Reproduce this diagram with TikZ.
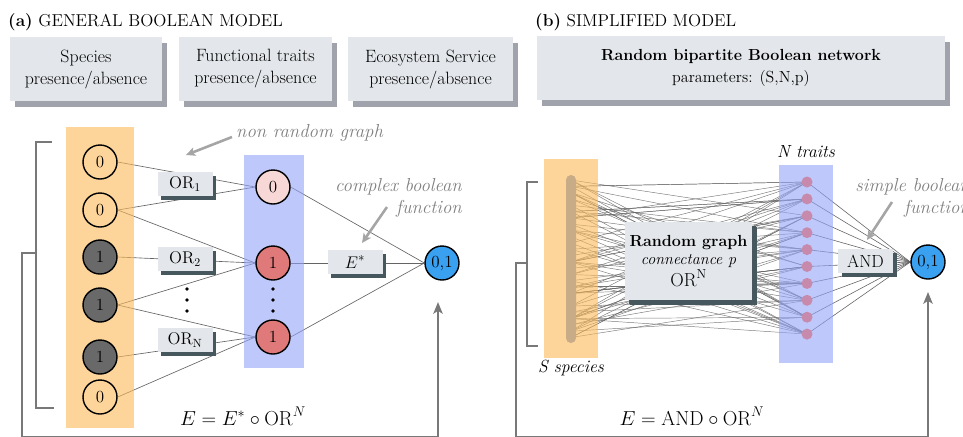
\documentclass[tikz,border=0pt]{standalone}
\usepackage{amsmath}
\usetikzlibrary{arrows.meta,shadows,calc}
\definecolor{orangeband}{RGB}{251,185,88}
\definecolor{blueband}{RGB}{147,163,247}
\definecolor{boxfill}{RGB}{227,230,234}
\definecolor{topshadow}{RGB}{160,163,172}
\definecolor{darkshadow}{RGB}{70,88,94}
\definecolor{onefill}{RGB}{105,105,105}
\definecolor{palepink}{RGB}{248,215,215}
\definecolor{salmon}{RGB}{224,122,122}
\definecolor{outblue}{RGB}{58,160,240}
\definecolor{mauve}{RGB}{200,138,172}
\definecolor{tanbar}{RGB}{200,172,135}
\definecolor{edgegray}{RGB}{100,100,100}
\definecolor{bracketgray}{RGB}{120,120,120}
\definecolor{notegray}{RGB}{128,128,128}
\definecolor{notearrow}{RGB}{165,165,165}
\pgfdeclarelayer{edges}
\pgfdeclarelayer{bands}
\pgfsetlayers{edges,bands,main}

\begin{document}
\begin{tikzpicture}[x=0.03cm,y=-0.03cm,
  title/.style={anchor=base west, inner sep=0pt, font=\fontsize{14.7}{17}\selectfont},
  topbox/.style={fill=boxfill, align=center, inner sep=0pt,
    font=\fontsize{15.2}{18.8}\selectfont,
    general shadow={fill=topshadow, shadow xshift=4.3pt, shadow yshift=-5.1pt}},
  gate/.style={fill=boxfill, inner sep=0pt, font=\fontsize{14.5}{16}\selectfont,
    minimum width=1.65cm, minimum height=0.72cm,
    general shadow={fill=darkshadow, shadow xshift=3.4pt, shadow yshift=-3.4pt}},
  state/.style={circle, draw=black, line width=1.2pt, minimum size=1.02cm,
    inner sep=0pt, font=\fontsize{14.5}{16}\selectfont},
  zero/.style={state},
  one/.style={state, fill=onefill},
  tdot/.style={circle, fill=mauve, minimum size=0.33cm, inner sep=0pt},
  edge/.style={draw=edgegray, line width=0.55pt},
  randedge/.style={draw=edgegray, line width=0.4pt, draw opacity=0.85},
  bracket/.style={draw=bracketgray, line width=1.8pt, line join=miter},
  uparrow/.style={bracket, -{Stealth[length=10pt, width=8pt, inset=2.5pt]}},
  note/.style={text=notegray, font=\fontsize{16}{19}\selectfont\itshape, inner sep=0pt},
  notearr/.style={draw=notearrow, line width=2.2pt, -{Stealth[length=8pt, width=7.5pt, inset=2pt]}},
  eqn/.style={anchor=base, inner sep=0pt, font=\fontsize{17}{20}\selectfont},
]
\useasboundingbox (0,0) rectangle (963,436);
\clip (0,0) rectangle (963,436);

% ---------- headings and top boxes ----------
\node[title] (ta) at (8,26) {\textbf{(a)} GENERAL BOOLEAN MODEL};
\node[title] (tb) at (535,26) {\textbf{(b)} SIMPLIFIED MODEL};

\node[topbox, minimum width=4.56cm, minimum height=1.92cm] (b1) at (86,69)
  {Species\\presence/absence};
\node[topbox, minimum width=4.59cm, minimum height=1.92cm] (b2) at (255.5,69)
  {Functional traits\\presence/absence};
\node[topbox, minimum width=4.95cm, minimum height=1.92cm] (b3) at (430.5,69)
  {Ecosystem Service\\presence/absence};
\node[topbox, minimum width=12.24cm, minimum height=1.92cm,
  font=\fontsize{13.7}{18.8}\selectfont] (bb) at (741,68)
  {\textbf{Random bipartite Boolean network}\\parameters: (S,N,p)};

% ---------- coloured bands (above the edges, below the nodes) ----------
\begin{pgfonlayer}{bands}
  \fill[orangeband, fill opacity=0.6] (66,127) rectangle (134,428);
  \fill[blueband, fill opacity=0.6] (244,155) rectangle (304,368);
  \fill[orangeband, fill opacity=0.6] (544,159) rectangle (598,358);
  \fill[blueband, fill opacity=0.6] (779,165) rectangle (833,363);
\end{pgfonlayer}

% ---------- (a) general Boolean model ----------
\node[zero] (s1) at (100,162) {0};
\node[zero] (s2) at (100,210) {0};
\node[one]  (s3) at (100,257) {1};
\node[one]  (s4) at (100,305) {1};
\node[one]  (s5) at (100,357) {1};
\node[zero] (s6) at (100,397) {0};

\node[gate] (or1) at (185,184) {OR\textsubscript{1}};
\node[gate] (or2) at (185,259) {OR\textsubscript{2}};
\node[gate] (orn) at (185,340) {OR\textsubscript{N}};
\foreach \yy in {289,300,311} \fill (187,\yy) circle (1.6pt);

\node[state, fill=palepink] (t1) at (273,187) {0};
\node[state, fill=salmon]   (t2) at (273,263) {1};
\node[state, fill=salmon]   (t3) at (273,337) {1};
\foreach \yy in {289,300,311} \fill (273,\yy) circle (1.6pt);

\node[gate, font=\fontsize{15.5}{17}\selectfont] (estar) at (355,262) {$E^{*}$};
\node[state, fill=outblue] (outa) at (442,263) {0,1};

\begin{pgfonlayer}{edges}
  \draw[edge] (s1.east) -- (t1.west);
  \draw[edge] (s2.east) -- (t1.west);
  \draw[edge] (s2.east) -- (t2.west);
  \draw[edge] (s3.east) -- (t2.west);
  \draw[edge] (s4.east) -- (t2.west);
  \draw[edge] (s4.east) -- (t3.west);
  \draw[edge] (s5.east) -- (t3.west);
  \draw[edge] (s6.east) -- (t3.west);
  \draw[edge] (t1.east) -- (outa.west);
  \draw[edge] (t2.east) -- (outa.west);
  \draw[edge] (t3.east) -- (outa.west);
\end{pgfonlayer}

% annotations
\node[note, anchor=west] (nrg) at (236,133) {non random graph};
\coordinate (nrgtip) at (186,155);
\draw[notearr] (232,137) -- (nrgtip);
\node[note, anchor=east, align=right] (cbf) at (462,198) {complex boolean\\function};
\coordinate (cbftip) at (362,243);
\draw[notearr] (387,207) -- (cbftip);

% bracket and feedback arrow
\draw[bracket] (52,142) -- (36,142) -- (36,408) -- (54,408);
\coordinate (tipa) at (438,302);
\draw[uparrow] (36,253) -- (22,253) -- (22,437) -- (438,437) -- (tipa);

\node[eqn] (eqa) at (243,425) {$E = E^{*}\circ\mathrm{OR}^{N}$};

% ---------- (b) simplified model ----------
\fill[tanbar, rounded corners=4.2pt] (566,175) rectangle (576,343);
\foreach \k in {0,...,25} \coordinate (sp\k) at (571,{180+\k*6.3});
\foreach \j in {0,...,9} \node[tdot] (d\j) at (807,{182+\j*16.9}) {};

\node[gate, minimum width=3.81cm, minimum height=2.34cm, align=center,
  font=\fontsize{13.7}{16}\selectfont,
  general shadow={fill=darkshadow, shadow xshift=4.3pt, shadow yshift=-4.3pt}] (rg) at (688.5,261)
  {\textbf{Random graph}\\[-1pt]\textit{connectance p}\\[1pt]{\fontsize{16}{18}\selectfont OR\textsuperscript{N}}};

\node[gate, font=\fontsize{15}{17}\selectfont] (andg) at (865.5,261) {AND};
\node[state, fill=outblue] (outb) at (928,262) {0,1};

\begin{pgfonlayer}{edges}
  \pgfmathsetseed{271}
  \foreach \j in {0,...,9}{
    \foreach \r in {1,...,8}{
      \pgfmathrandominteger{\s}{0}{25}
      \draw[randedge] (sp\s) -- (d\j.center);
    }
    \draw[edge, line width=0.5pt] (d\j.center) -- (outb.west);
  }
\end{pgfonlayer}

\node[font=\fontsize{15}{18}\selectfont\itshape, inner sep=0pt] (ntr) at (806,152) {N traits};
\node[font=\fontsize{15}{18}\selectfont\itshape, inner sep=0pt] (ssp) at (571,368) {S species};

% this note runs past the right edge of the page
\node[note, anchor=east, align=right] (sbf) at (970,198) {simple boolean\\function};
\coordinate (sbftip) at (867,240);
\draw[notearr] (892,202) -- (sbftip);

\draw[bracket] (538,182) -- (527,182) -- (527,346) -- (538,346);
\coordinate (tipb) at (928,292);
\draw[uparrow] (527,263) -- (516,263) -- (516,437) -- (928,437) -- (tipb);

\node[eqn] (eqb) at (692,425) {$E = \mathrm{AND}\circ\mathrm{OR}^{N}$};
\end{tikzpicture}
\end{document}
